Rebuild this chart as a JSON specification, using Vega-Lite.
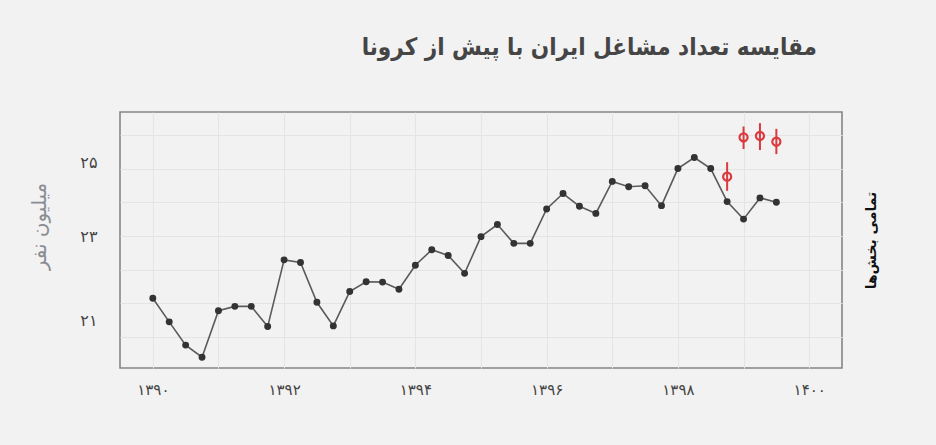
{
  "$schema": "https://vega.github.io/schema/vega-lite/v6.json",
  "autosize": {"type": "none"},
  "padding": {"left": 120, "top": 112, "right": 94, "bottom": 77},
  "width": 722,
  "height": 256,
  "background": "#f2f2f2",
  "title": {
    "text": "مقایسه تعداد مشاغل ایران با پیش از کرونا",
    "anchor": "end",
    "dx": -61,
    "offset": 52,
    "font": "DejaVu Sans Condensed",
    "fontSize": 24,
    "fontWeight": "bold",
    "color": "#454545"
  },
  "datasets": {
    "jobs": [
      {"q": 1390.00, "v": 21.15}, {"q": 1390.25, "v": 20.45}, {"q": 1390.50, "v": 19.76}, {"q": 1390.75, "v": 19.40},
      {"q": 1391.00, "v": 20.78}, {"q": 1391.25, "v": 20.91}, {"q": 1391.50, "v": 20.91}, {"q": 1391.75, "v": 20.31},
      {"q": 1392.00, "v": 22.29}, {"q": 1392.25, "v": 22.21}, {"q": 1392.50, "v": 21.03}, {"q": 1392.75, "v": 20.33},
      {"q": 1393.00, "v": 21.35}, {"q": 1393.25, "v": 21.64}, {"q": 1393.50, "v": 21.63}, {"q": 1393.75, "v": 21.42},
      {"q": 1394.00, "v": 22.13}, {"q": 1394.25, "v": 22.59}, {"q": 1394.50, "v": 22.42}, {"q": 1394.75, "v": 21.89},
      {"q": 1395.00, "v": 22.98}, {"q": 1395.25, "v": 23.34}, {"q": 1395.50, "v": 22.78}, {"q": 1395.75, "v": 22.78},
      {"q": 1396.00, "v": 23.80}, {"q": 1396.25, "v": 24.26}, {"q": 1396.50, "v": 23.88}, {"q": 1396.75, "v": 23.67},
      {"q": 1397.00, "v": 24.62}, {"q": 1397.25, "v": 24.46}, {"q": 1397.50, "v": 24.49}, {"q": 1397.75, "v": 23.90},
      {"q": 1398.00, "v": 25.00}, {"q": 1398.25, "v": 25.33}, {"q": 1398.50, "v": 25.00}, {"q": 1398.75, "v": 24.02},
      {"q": 1399.00, "v": 23.50}, {"q": 1399.25, "v": 24.13}, {"q": 1399.50, "v": 24.00}
    ],
    "expected": [
      {"q": 1398.75, "v": 24.76, "lo": 24.34, "hi": 25.19},
      {"q": 1399.00, "v": 25.93, "lo": 25.58, "hi": 26.25},
      {"q": 1399.25, "v": 25.97, "lo": 25.55, "hi": 26.35},
      {"q": 1399.50, "v": 25.80, "lo": 25.43, "hi": 26.18}
    ]
  },
  "layer": [
    {
      "data": {"name": "jobs"},
      "mark": {"type": "line", "color": "#5a5a5a", "strokeWidth": 1.6},
      "encoding": {
        "x": {
          "field": "q",
          "type": "quantitative",
          "scale": {"domain": [1389.5, 1400.5], "nice": false, "zero": false},
          "axis": {
            "title": null,
            "values": [1390, 1391, 1392, 1393, 1394, 1395, 1396, 1397, 1398, 1399, 1400],
            "labelExpr": "{'1390': '۱۳۹۰', '1392': '۱۳۹۲', '1394': '۱۳۹۴', '1396': '۱۳۹۶', '1398': '۱۳۹۸', '1400': '۱۴۰۰'}[format(datum.value, 'd')] || ''",
            "ticks": false,
            "domain": false,
            "grid": true,
            "gridColor": "#e4e4e4",
            "labelFont": "DejaVu Sans",
            "labelFontSize": 15,
            "labelColor": "#444444",
            "labelPadding": 14
          }
        },
        "y": {
          "field": "v",
          "type": "quantitative",
          "scale": {"domain": [19.08, 26.68], "nice": false, "zero": false},
          "axis": {
            "orient": "left",
            "title": "میلیون نفر",
            "titleFont": "DejaVu Sans",
            "titleFontSize": 20,
            "titleFontWeight": "normal",
            "titleColor": "#8a8d94",
            "titlePadding": 30,
            "titleY": 114,
            "values": [20, 21, 22, 23, 24, 25, 26],
            "labelExpr": "datum.value == 21 ? '۲۱' : datum.value == 23 ? '۲۳' : datum.value == 25 ? '۲۵' : ''",
            "labelOffset": {
              "condition": [
                {"test": "datum.value == 21", "value": 17},
                {"test": "datum.value == 25", "value": -6}
              ],
              "value": 1
            },
            "ticks": false,
            "domain": false,
            "grid": true,
            "gridColor": "#e4e4e4",
            "labelFont": "DejaVu Sans",
            "labelFontSize": 16,
            "labelColor": "#444444",
            "labelPadding": 23
          }
        }
      }
    },
    {
      "data": {"name": "jobs"},
      "mark": {"type": "point", "filled": true, "color": "#333333", "size": 48, "opacity": 1},
      "encoding": {
        "x": {"field": "q", "type": "quantitative"},
        "y": {
          "field": "v",
          "type": "quantitative",
          "axis": {
            "orient": "right",
            "title": "تمامی بخش‌ها",
            "titleAngle": -90,
            "titleFont": "DejaVu Sans",
            "titleFontSize": 14,
            "titleFontWeight": "bold",
            "titleColor": "#111111",
            "titlePadding": 36,
            "labels": false,
            "ticks": false,
            "domain": false,
            "grid": false
          }
        }
      }
    },
    {
      "data": {"name": "expected"},
      "mark": {"type": "rule", "color": "#d9393f", "strokeWidth": 2},
      "encoding": {
        "x": {"field": "q", "type": "quantitative"},
        "y": {"field": "lo", "type": "quantitative", "axis": null},
        "y2": {"field": "hi"}
      }
    },
    {
      "data": {"name": "expected"},
      "mark": {"type": "point", "filled": false, "color": "#d9393f", "size": 65, "strokeWidth": 2.2, "opacity": 1},
      "encoding": {
        "x": {"field": "q", "type": "quantitative"},
        "y": {"field": "v", "type": "quantitative", "axis": null}
      }
    },
    {
      "mark": {"type": "rule", "color": "#d98a8a", "strokeWidth": 1.5, "strokeDash": [6, 5]},
      "encoding": {
        "x": {"datum": 1398.625, "type": "quantitative"}
      }
    }
  ],
  "resolve": {"axis": {"y": "independent"}},
  "config": {
    "view": {"stroke": "#858585", "strokeWidth": 1.6, "fill": "#f2f2f2"}
  }
}
